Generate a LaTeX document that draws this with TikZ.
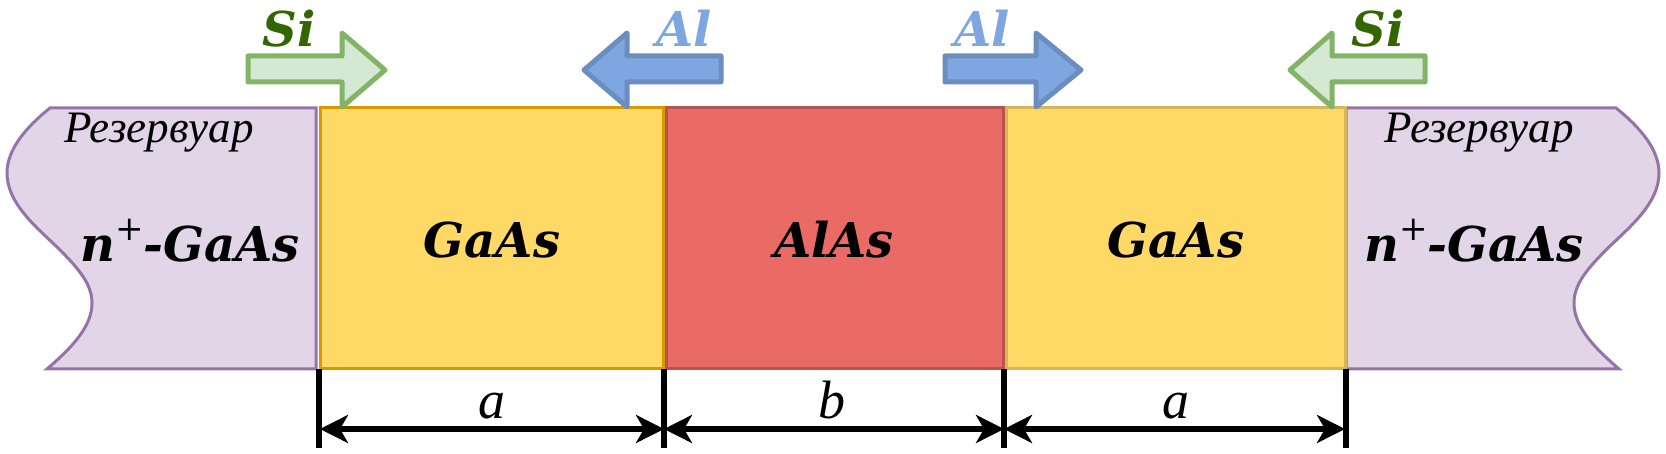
\documentclass[tikz,border=0pt]{standalone}
\usepackage{fontspec}
\newfontfamily\cyrfont{Liberation Serif}
\newfontfamily\boldserif{DejaVu Serif}
\usetikzlibrary{arrows.meta}
\definecolor{purpfill}{HTML}{E1D5E7}
\definecolor{purpline}{HTML}{9673A6}
\definecolor{yelfill}{HTML}{FFD966}
\definecolor{orgline}{HTML}{D79B00}
\definecolor{yelline}{HTML}{D6B656}
\definecolor{redfill}{HTML}{EA6B66}
\definecolor{redline}{HTML}{B85450}
\definecolor{grfill}{HTML}{D5E8D4}
\definecolor{grline}{HTML}{82B366}
\definecolor{sitext}{HTML}{336600}
\definecolor{blfill}{HTML}{7EA6E0}
\definecolor{blline}{HTML}{6C8EBF}
\newcommand{\plussup}{\raisebox{0.45em}{\fontsize{17}{20}\selectfont\mdseries\upshape +}}
\tikzset{
  resv/.style={fill=purpfill, draw=purpline, line width=1.5pt},
  layerbox/.style={line width=1.5pt},
  bigtxt/.style={font=\fontsize{24}{29}\selectfont\boldserif\bfseries\itshape, inner sep=0pt},
  restxt/.style={font=\fontsize{22.5}{27}\selectfont\cyrfont\itshape, inner sep=0pt},
  sitxt/.style={font=\fontsize{24}{29}\selectfont\boldserif\bfseries\itshape, text=sitext, inner sep=0pt, anchor=base},
  altxt/.style={font=\fontsize{24}{29}\selectfont\boldserif\bfseries\itshape, text=blfill, inner sep=0pt, anchor=base},
  dimtxt/.style={font=\fontsize{27}{32}\selectfont\cyrfont\itshape, inner sep=0pt, anchor=base},
  siarrow/.style={fill=grfill, draw=grline, line width=2.5pt, line join=round},
  alarrow/.style={fill=blfill, draw=blline, line width=2.5pt, line join=round},
  tick/.style={draw=black, line width=2.8pt},
  dimline/.style={draw=black, line width=3pt, {Stealth[length=14pt,width=14pt,inset=4pt]}-{Stealth[length=14pt,width=14pt,inset=4pt]}}
}
\begin{document}
\begin{tikzpicture}[x=0.5pt,y=-0.5pt]
\useasboundingbox (0,0) rectangle (1666,454);
% reservoirs
\draw[resv] (316,108) -- (50,108) .. controls (25,128) and (7,150) .. (7,173)
  .. controls (7,205) and (40,230) .. (60,250)
  .. controls (80,270) and (92,285) .. (92,303)
  .. controls (92,325) and (75,345) .. (47,369) -- (316,369) -- cycle;
\draw[resv] (1346,108) -- (1616,108) .. controls (1641,128) and (1659,150) .. (1659,173)
  .. controls (1659,205) and (1626,230) .. (1606,250)
  .. controls (1586,270) and (1574,285) .. (1574,303)
  .. controls (1574,325) and (1591,345) .. (1619,369) -- (1346,369) -- cycle;
% layers
\draw[layerbox, fill=yelfill, draw=orgline] (320,108) rectangle (663,369);
\draw[layerbox, fill=redfill, draw=redline] (666,108) rectangle (1003,369);
\draw[layerbox, fill=yelfill, draw=yelline] (1006,108) rectangle (1345,369);
% texts
\node[restxt, anchor=base] (r1) at (159,143) {Резервуар};
\node[restxt, anchor=base] (r2) at (1479,143) {Резервуар};
\node[bigtxt, anchor=base] (n1) at (190,262) {n\plussup-GaAs};
\node[bigtxt, anchor=base] (n2) at (1474,262) {n\plussup-GaAs};
\node[bigtxt, anchor=base] (g1) at (492,258) {GaAs};
\node[bigtxt, anchor=base] (al) at (834,258) {AlAs};
\node[bigtxt, anchor=base] (g2) at (1176,258) {GaAs};
% top arrows
\draw[siarrow] (248,56) -- (342,56) -- (342,33) -- (385,70) -- (342,107) -- (342,82) -- (248,82) -- cycle;
\draw[alarrow] (721,56) -- (627,56) -- (627,33) -- (584,70) -- (627,107) -- (627,82) -- (721,82) -- cycle;
\draw[alarrow] (945,56) -- (1036,56) -- (1036,33) -- (1081,70) -- (1036,107) -- (1036,82) -- (945,82) -- cycle;
\draw[siarrow] (1425,56) -- (1332,56) -- (1332,33) -- (1290,70) -- (1332,107) -- (1332,82) -- (1425,82) -- cycle;
\node[sitxt] (si1) at (289,47) {Si};
\node[sitxt] (si2) at (1378,47) {Si};
\node[altxt] (al1) at (684,47) {Al};
\node[altxt] (al2) at (982,47) {Al};
% dimension ticks
\coordinate (t1a) at (319,369); \coordinate (t1b) at (319,448);
\coordinate (t2a) at (664,369); \coordinate (t2b) at (664,448);
\coordinate (t3a) at (1004,369); \coordinate (t3b) at (1004,448);
\coordinate (t4a) at (1346,369); \coordinate (t4b) at (1346,448);
\draw[tick] (t1a) -- (t1b);
\draw[tick] (t2a) -- (t2b);
\draw[tick] (t3a) -- (t3b);
\draw[tick] (t4a) -- (t4b);
\coordinate (d1) at (320,429);
\coordinate (d2) at (664,429);
\coordinate (d3) at (1004,429);
\coordinate (d4) at (1345,429);
\draw[dimline] (d1) -- (d2);
\draw[dimline] (d2) -- (d3);
\draw[dimline] (d3) -- (d4);
\node[dimtxt] (la) at (492,418) {a};
\node[dimtxt] (lb) at (832,418) {b};
\node[dimtxt] (lc) at (1176,418) {a};
\end{tikzpicture}
\end{document}
